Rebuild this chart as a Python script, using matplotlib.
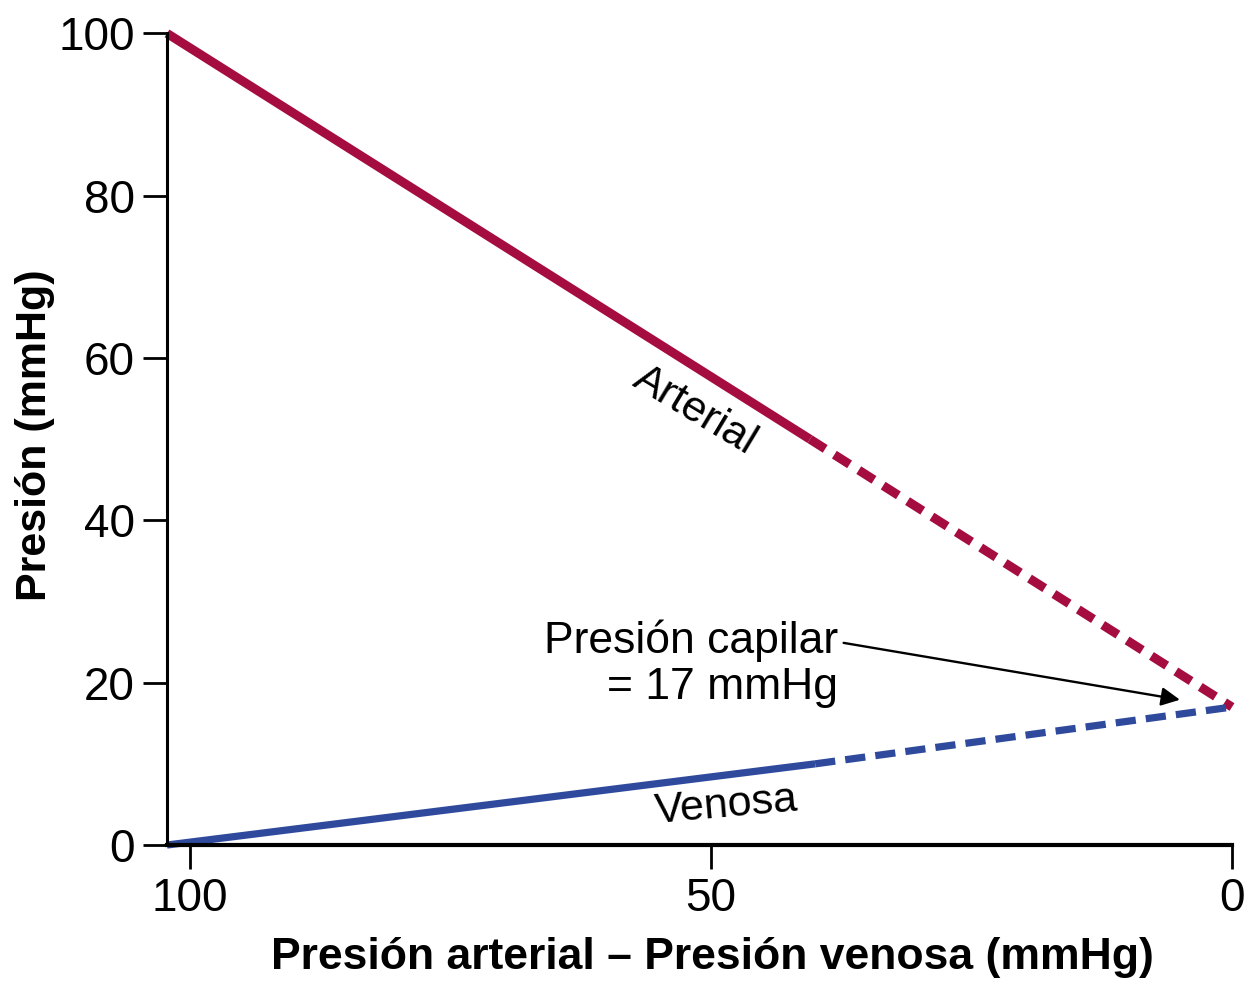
import numpy as np
import matplotlib.pyplot as plt

plt.rcParams['font.family'] = ['Liberation Sans', 'DejaVu Sans']

# data
art_solid_x = [102.2, 40.5]
art_solid_y = [100, 50]
art_dash_x = [40.5, 0]
art_dash_y = [50, 17]
ven_solid_x = [102.2, 40]
ven_solid_y = [0, 10]
ven_dash_x = [40, 0]
ven_dash_y = [10, 17]
xticks = [100, 50, 0]
yticks = [0, 20, 40, 60, 80, 100]

red = '#a50c40'
blue = '#2f4a9c'

fig = plt.figure(figsize=(12.5, 9.82), dpi=100)
ax = fig.add_axes([0.1336, 0.1395, 0.852, 0.8265])

ax.plot(art_solid_x, art_solid_y, color=red, lw=6.5, solid_capstyle='butt', clip_on=False)
ax.plot(art_dash_x, art_dash_y, color=red, lw=6.5, dashes=(2.0, 1.2), clip_on=False)
ax.plot(ven_solid_x, ven_solid_y, color=blue, lw=5.2, solid_capstyle='butt', clip_on=False)
ax.plot(ven_dash_x, ven_dash_y, color=blue, lw=5.2, dashes=(2.8, 1.4), clip_on=False)

ax.set_xlim(102.2, 0)
ax.set_ylim(0, 100)
ax.set_xticks(xticks)
ax.set_yticks(yticks)

for s in ['top', 'right']:
    ax.spines[s].set_visible(False)
ax.spines['left'].set_linewidth(2.2)
ax.spines['bottom'].set_linewidth(3)
ax.tick_params(length=17, width=2, labelsize=33, pad=6)

ax.set_xlabel('Presión arterial – Presión venosa (mmHg)', fontsize=32,
              fontweight='bold', va='center')
ax.xaxis.set_label_coords(0.512, -0.139)
ax.set_ylabel('Presión (mmHg)', fontsize=31, fontweight='bold', va='center')
ax.yaxis.set_label_coords(-0.124, 0.505)

ax.text(51.5, 53.5, 'Arterial', fontsize=31, rotation=-31,
        ha='center', va='center')
ax.text(48.5, 4.8, 'Venosa', fontsize=31, rotation=5,
        ha='center', va='center')

ax.annotate('Presión capilar\n= 17 mmHg', xy=(5, 17.9), xytext=(37.8, 22.3),
            fontsize=32, ha='right', va='center', multialignment='right',
            linespacing=1.15,
            arrowprops=dict(arrowstyle='-|>', color='black', lw=1.7,
                            mutation_scale=28, shrinkA=2, shrinkB=0,
                            relpos=(1.0, 0.75)))

fig.savefig('out.png', dpi=100)
